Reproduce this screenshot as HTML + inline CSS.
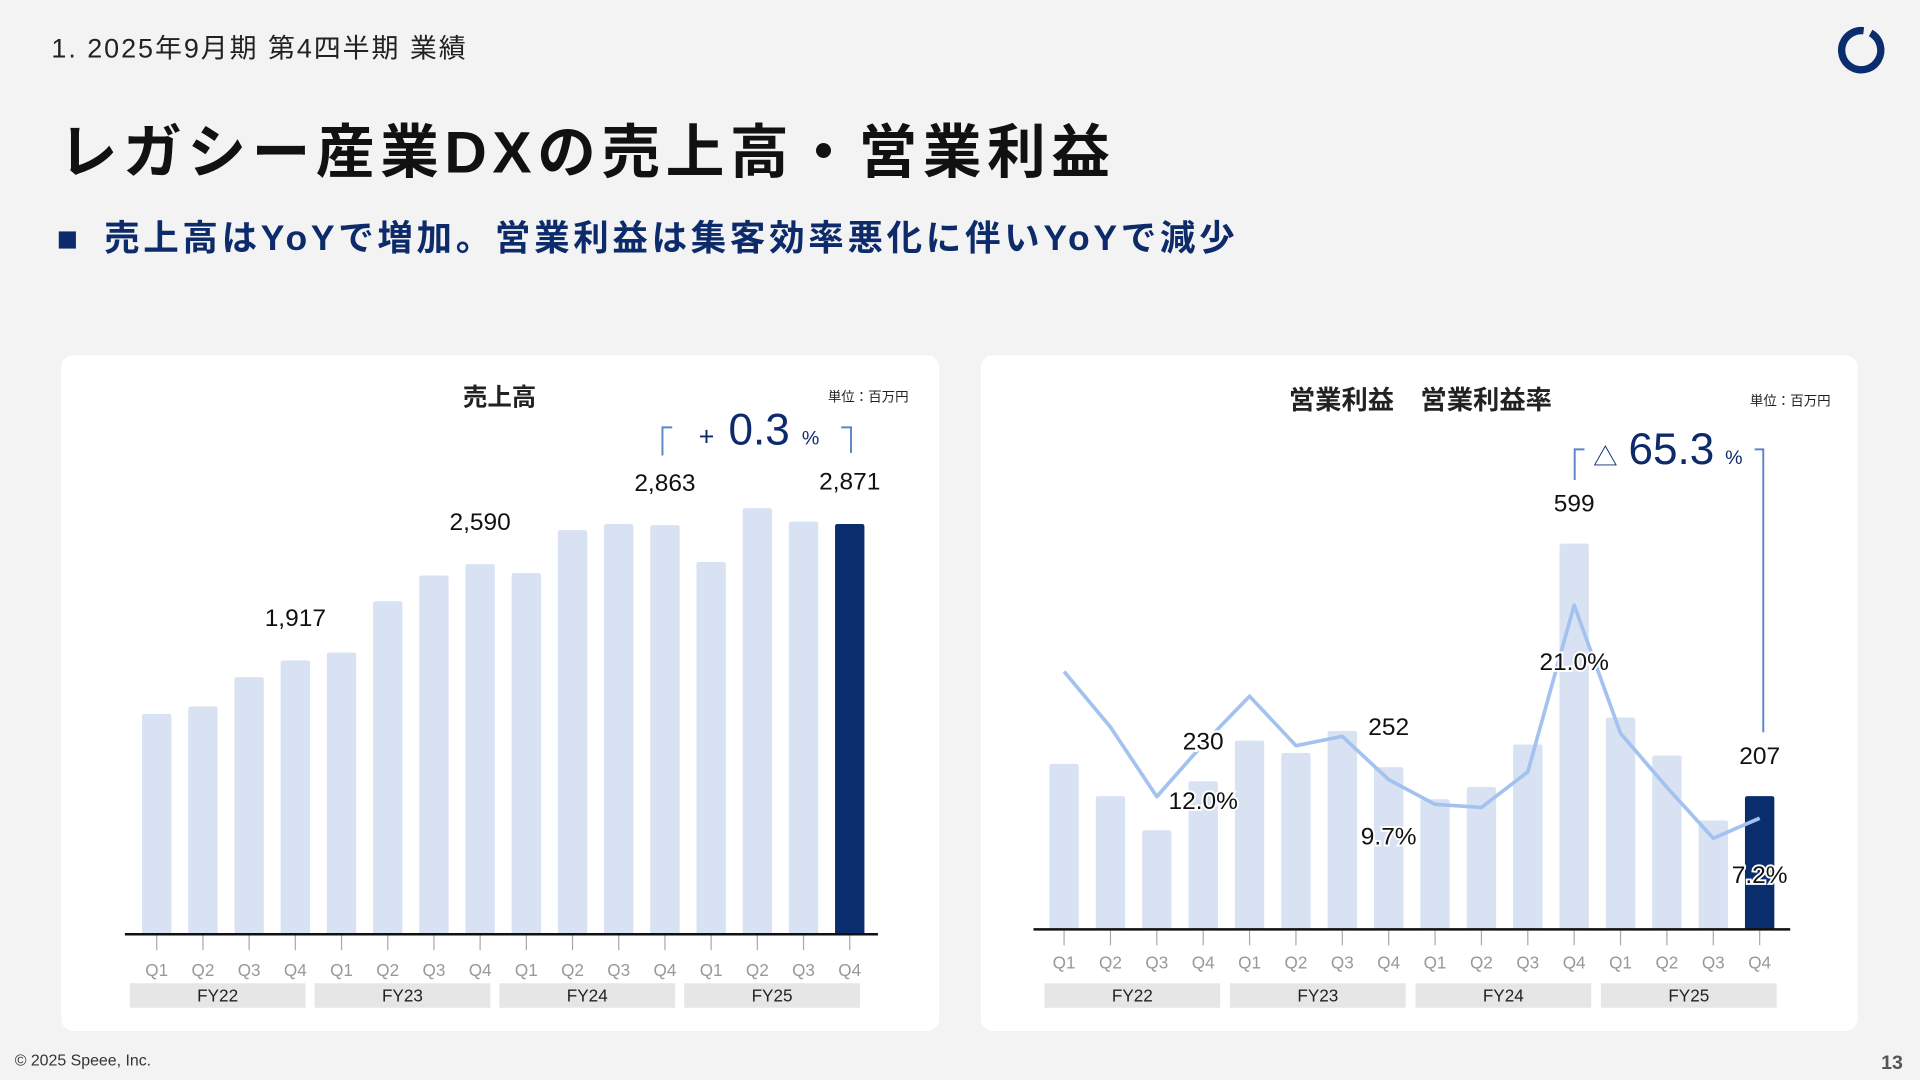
<!DOCTYPE html>
<html><head><meta charset="utf-8">
<style>
html,body{margin:0;padding:0;background:#f3f3f3;}
svg{display:block;font-family:"Liberation Sans","Noto Sans CJK JP",sans-serif;}
</style></head>
<body>
<svg id="s" width="1920" height="1080" viewBox="0 0 1568 882" xmlns="http://www.w3.org/2000/svg">
<rect x="0" y="0" width="1568" height="882" fill="#f3f3f3"/>
<text x="42" y="47" font-size="22" letter-spacing="1.6" fill="#222">1. 2025年9月期 第4四半期 業績</text>
<g>
<circle cx="1520" cy="41" r="16" fill="none" stroke="#0a2d6e" stroke-width="6" stroke-dasharray="94 6" transform="rotate(-60 1520 41)"/>
</g>
<text x="48" y="141" font-size="48" letter-spacing="4.5" font-weight="bold" fill="#111">レガシー産業DXの売上高・営業利益</text>
<rect x="48" y="189" width="14" height="14" fill="#0d2b6b"/>
<text x="85" y="204" font-size="29" letter-spacing="3" font-weight="bold" fill="#0d2b6b">売上高はYoYで増加。営業利益は集客効率悪化に伴いYoYで減少</text>

<rect x="50" y="290" width="717" height="552" rx="10" fill="#fff"/>
<rect x="801" y="290" width="716" height="552" rx="10" fill="#fff"/>

<text x="408" y="331" font-size="20" font-weight="bold" text-anchor="middle" fill="#222">売上高</text>
<text x="742" y="328" font-size="11" text-anchor="end" fill="#222">単位：百万円</text>
<text x="1160" y="334" font-size="21.5" font-weight="bold" text-anchor="middle" fill="#222">営業利益　営業利益率</text>
<text x="1495" y="331" font-size="11" text-anchor="end" fill="#222">単位：百万円</text>

<g>
<path d="M541 372 V349 H549 M687 349 H695 V370" fill="none" stroke="#5b86c9" stroke-width="1.6"/>
<text x="577" y="364" font-size="22" fill="#0d2b6b" text-anchor="middle">+</text>
<text x="620" y="363" font-size="36" fill="#0d2b6b" text-anchor="middle">0.3</text>
<text x="662" y="363" font-size="16" fill="#0d2b6b" text-anchor="middle">%</text>
</g>
<g>
<path d="M1286 392 V367 H1294 M1433 367 H1440 V598" fill="none" stroke="#5b86c9" stroke-width="1.6"/>
<text x="1311" y="380" font-size="20" fill="#0d2b6b" text-anchor="middle">△</text>
<text x="1365" y="379" font-size="36" fill="#0d2b6b" text-anchor="middle">65.3</text>
<text x="1416" y="379" font-size="16" fill="#0d2b6b" text-anchor="middle">%</text>
</g>

<g id="salesG"></g>
<g id="profitG"></g>

<text x="12" y="870" font-size="13" fill="#333">© 2025 Speee, Inc.</text>
<text x="1554" y="873" font-size="16" font-weight="bold" fill="#555" text-anchor="end">13</text>
</svg>
<script>
const quarters = ["Q1","Q2","Q3","Q4","Q1","Q2","Q3","Q4","Q1","Q2","Q3","Q4","Q1","Q2","Q3","Q4"];
const fiscalYears = ["FY22","FY23","FY24","FY25"];
const sales = [1542,1594,1800,1917,1971,2331,2511,2590,2528,2828,2871,2863,2605,2982,2888,2871];
const salesLabelIdx = [3,7,11,15];
const profit = [257,207,154,230,293,274,308,252,202,221,287,599,329,270,169,207];
const profitLabelIdx = [3,7,11,15];
const margin = [16.7,13.1,8.6,12.0,15.1,11.9,12.5,9.7,8.1,7.9,10.2,21.0,12.7,9.2,5.9,7.2];
const marginLabelIdx = [3,7,11,15];

const NS="http://www.w3.org/2000/svg";
function mk(tag,attrs,parent,txt){const e=document.createElementNS(NS,tag);for(const k in attrs)e.setAttribute(k,attrs[k]);if(txt!==undefined)e.textContent=txt;parent.appendChild(e);return e;}
const fmt=v=>v.toLocaleString("en-US");

const xL=i=>128+i*37.73, yL=v=>763-v*0.1167;
const xR=i=>869+i*37.87, yR=v=>759-v*0.526, yP=p=>759-p*12.61;
const BW=24;

function axis(g,x,base,x0,x1,qy,fyy,off){
  let e=mk("line",{x1:x0,x2:x1,y1:base,y2:base,stroke:"#111","stroke-width":2},g);
  
  
  quarters.forEach((q,i)=>{
    let t=mk("line",{x1:x(i),x2:x(i),y1:base+1,y2:base+13,stroke:"#aaa","stroke-width":1},g);
    
    
    let l=mk("text",{x:x(i),y:qy,"font-size":14,fill:"#999","text-anchor":"middle"},g,q);
    
    
  });
  fiscalYears.forEach((f,k)=>{
    const a=x(k*4)-off,w=143.5;
    let r=mk("rect",{x:a,y:fyy,width:w,height:20,fill:"#e6e6e6"},g);
    
    
    let t=mk("text",{x:a+w/2,y:fyy+15,"font-size":14,fill:"#222","text-anchor":"middle"},g,f);
    
    
  });
}

const sg=document.getElementById("salesG");
sales.forEach((v,i)=>{
  const y=yL(v);
  let b=mk("path",{d:`M${xL(i)-BW/2} 763 V${y+2} q0 -2 2 -2 H${xL(i)+BW/2-2} q2 0 2 2 V763 Z`,fill:i===15?"#0a2d6e":"#d9e2f3"},sg);
  
  
});
salesLabelIdx.forEach(i=>{
  let t=mk("text",{x:xL(i),y:yL(sales[i])-28,"font-size":20,fill:"#111","text-anchor":"middle"},sg,fmt(sales[i]));
  
  
});
axis(sg,xL,763,102,717,797,803,22);

const pg=document.getElementById("profitG");
profit.forEach((v,i)=>{
  const y=yR(v);
  let b=mk("path",{d:`M${xR(i)-BW/2} 759 V${y+2} q0 -2 2 -2 H${xR(i)+BW/2-2} q2 0 2 2 V759 Z`,fill:i===15?"#0a2d6e":"#d9e2f3"},pg);
  
  
});
let ln=mk("polyline",{points:margin.map((p,i)=>xR(i)+","+yP(p)).join(" "),fill:"none",stroke:"#a4c2f0","stroke-width":3,"stroke-linejoin":"round"},pg);


profitLabelIdx.forEach(i=>{
  let t=mk("text",{x:xR(i),y:yR(profit[i])-26,"font-size":20,fill:"#111","text-anchor":"middle",stroke:"#fff","stroke-width":4,"paint-order":"stroke"},pg,fmt(profit[i]));
  
  
});
marginLabelIdx.forEach(i=>{
  let t=mk("text",{x:xR(i),y:yP(margin[i])+53,"font-size":20,fill:"#111","text-anchor":"middle",stroke:"#fff","stroke-width":3,"paint-order":"stroke"},pg,margin[i].toFixed(1)+"%");
  
  
});
axis(pg,xR,759,844,1462,791,803,16);
</script>
</body></html>
